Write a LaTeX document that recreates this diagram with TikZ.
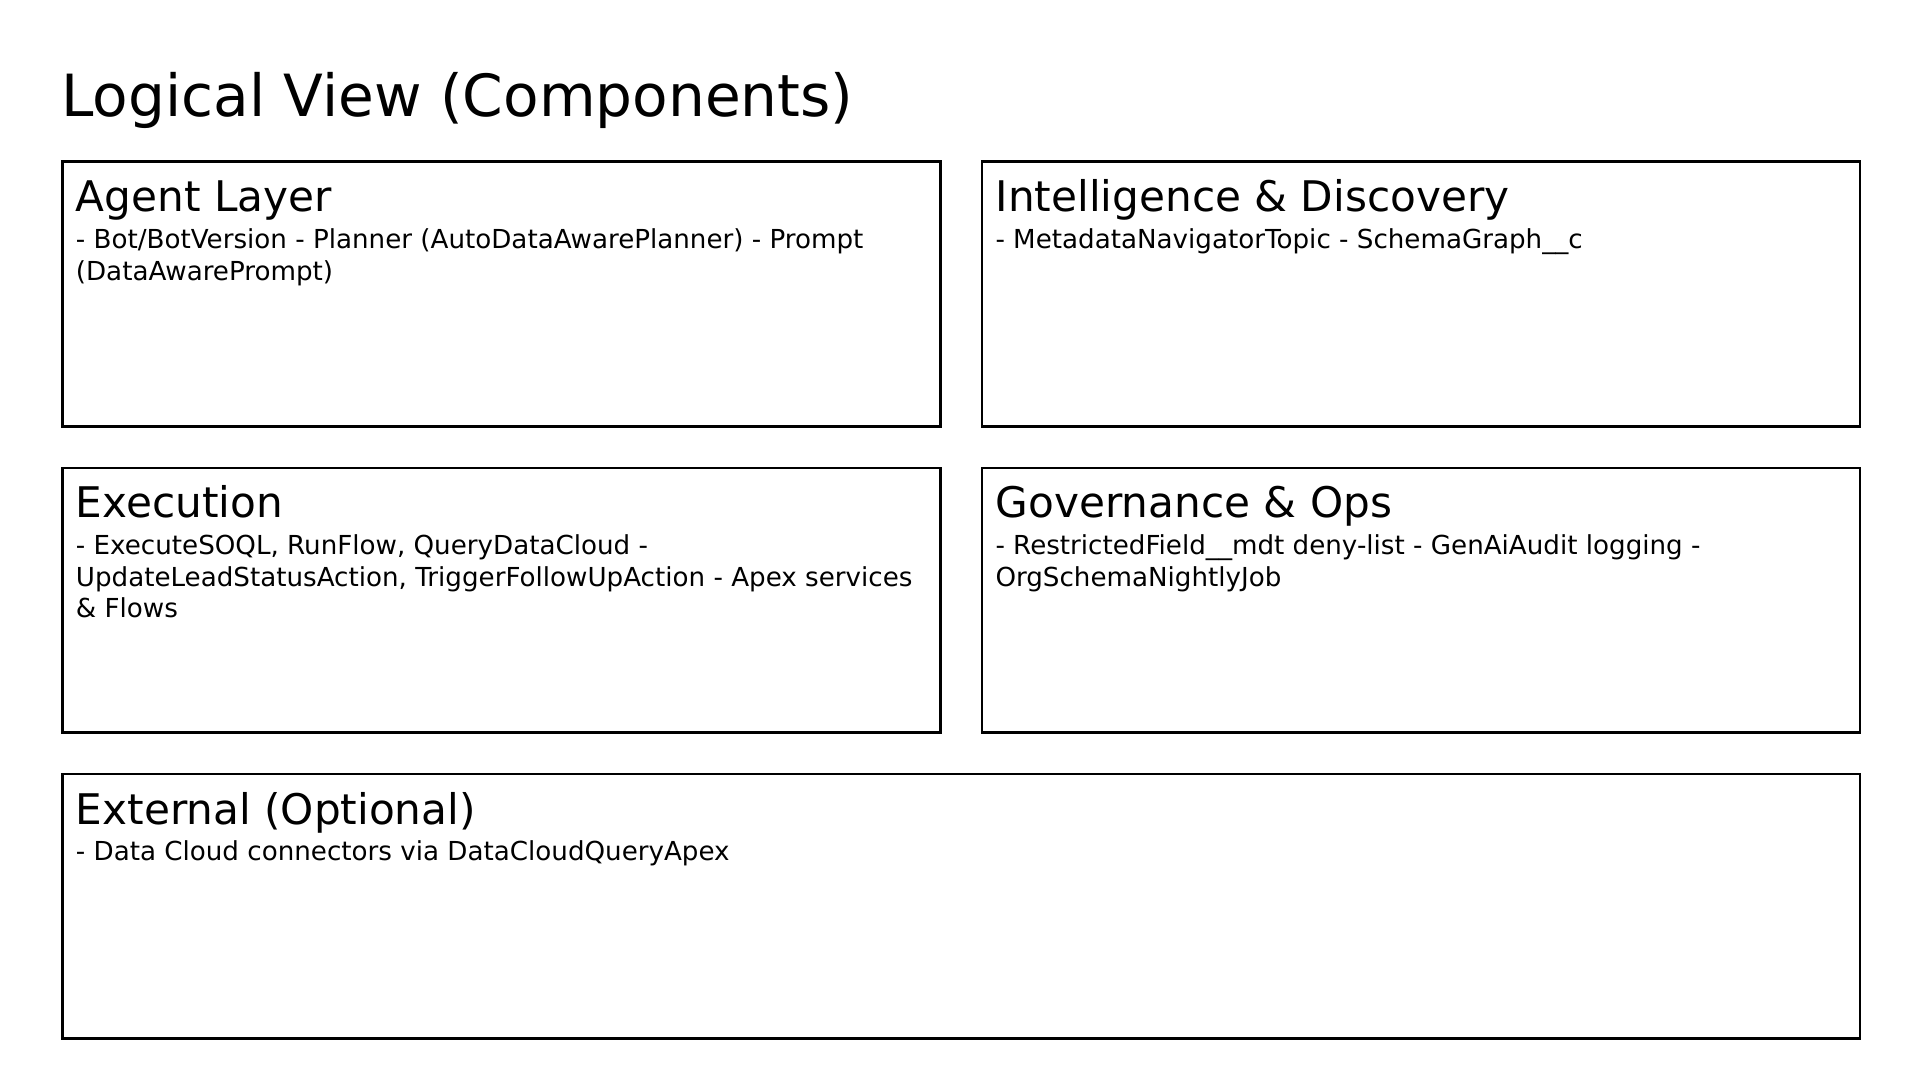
\documentclass[tikz,border=0pt]{standalone}
\usepackage{fontspec}
\setmainfont{DejaVu Sans}
\begin{document}
\begin{tikzpicture}[x=1pt,y=-1pt,
  panel/.style={draw=black,line width=2.6pt,anchor=north west,inner sep=0pt,minimum height=264.5pt},
  halfpanel/.style={panel,minimum width=878pt},
  fullpanel/.style={panel,minimum width=1797.6pt},
  titletext/.style={anchor=base west,inner sep=0pt,font=\fontsize{58.15}{70}\selectfont},
  headtext/.style={anchor=base west,inner sep=0pt,font=\fontsize{42.2}{50}\selectfont},
  bodytext/.style={anchor=base west,inner sep=0pt,align=left,font=\fontsize{26.15}{31.5}\selectfont}]
\useasboundingbox (0,0) rectangle (1920,1080);
\fill[white] (0,0) rectangle (1920,1080);

\node[titletext] (title) at (61.2,116.2) {Logical View (Components)};

\node[halfpanel] (agent) at (61.2,160.4) {};
\node[halfpanel] (intel) at (980.8,160.4) {};
\node[halfpanel] (exec) at (61.2,466.5) {};
\node[halfpanel] (gov) at (980.8,466.5) {};
\node[fullpanel] (ext) at (61.2,772.6) {};

\node[headtext] (agenth) at (75.7,211.8) {Agent Layer};
\node[headtext] (intelh) at (995.5,211.8) {Intelligence \& Discovery};
\node[headtext] (exech) at (75.7,517.9) {Execution};
\node[headtext] (govh) at (995.5,517.9) {Governance \& Ops};
\node[headtext] (exth) at (75.7,824.0) {External (Optional)};

% base anchor of a multi-line node is the baseline of its last line
\node[bodytext] (agentb) at (75.7,280.1) {- Bot/BotVersion - Planner (AutoDataAwarePlanner) - Prompt\\(DataAwarePrompt)};
\node[bodytext] (intelb) at (995.3,248.6) {- MetadataNavigatorTopic - SchemaGraph\_\_c};
\node[bodytext] (execb) at (75.7,617.7) {- ExecuteSOQL, RunFlow, QueryDataCloud -\\UpdateLeadStatusAction, TriggerFollowUpAction - Apex services\\\& Flows};
\node[bodytext] (govb) at (995.3,586.2) {- RestrictedField\_\_mdt deny-list - GenAiAudit logging -\\OrgSchemaNightlyJob};
\node[bodytext] (extb) at (75.7,860.8) {- Data Cloud connectors via DataCloudQueryApex};
\end{tikzpicture}
\end{document}
